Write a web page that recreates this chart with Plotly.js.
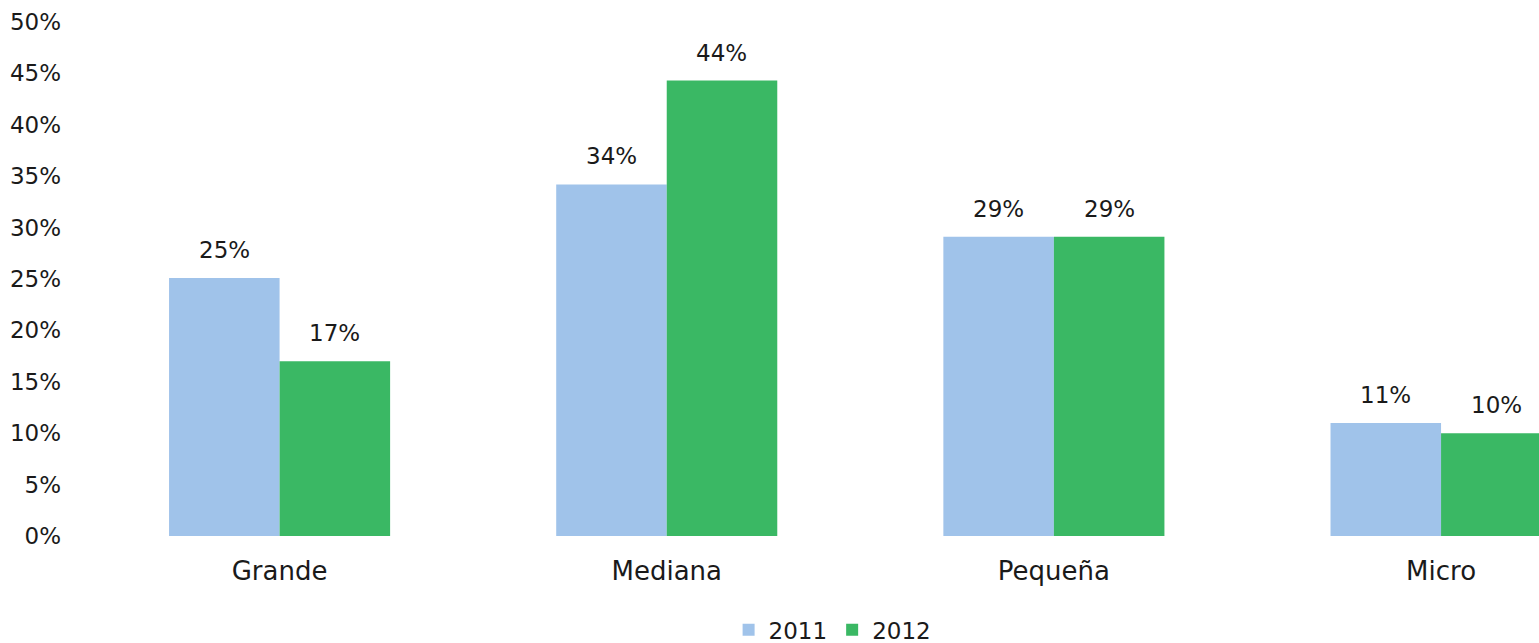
<!DOCTYPE html>
<html>
<head>
<meta charset="utf-8">
<script src="https://cdn.plot.ly/plotly-3.0.1.min.js"></script>
<style>
  html, body { margin: 0; padding: 0; background: #fff; }
  #grafico { width: 1539px; height: 643px; }
</style>
</head>
<body>
<div id="grafico"></div>
<script>
// Datos del gráfico
var categorias = ['Grande', 'Mediana', 'Pequeña', 'Micro'];
var valores2011 = [0.251, 0.342, 0.291, 0.110];
var valores2012 = [0.170, 0.443, 0.291, 0.100];
var series = ['2011', '2012'];

var colorAzul = '#A0C3EA';
var colorVerde = '#3AB864';
var fuente = 'DejaVu Sans, sans-serif';

function initGrafico() {
    var data = [{
        x: categorias,
        y: valores2011,
        type: 'bar',
        name: series[0],
        marker: {color: colorAzul},
        hoverinfo: 'none'
    }, {
        x: categorias,
        y: valores2012,
        type: 'bar',
        name: series[1],
        marker: {color: colorVerde},
        hoverinfo: 'none'
    }];

    // Etiquetas de datos sobre cada barra
    var desplaz = 0.1427;
    var anotaciones = [];
    categorias.forEach(function(c, i) {
        anotaciones.push({x: i - desplaz, y: valores2011[i], text: Math.round(valores2011[i] * 100) + '%',
            showarrow: false, yanchor: 'middle', yshift: 28});
        anotaciones.push({x: i + desplaz, y: valores2012[i], text: Math.round(valores2012[i] * 100) + '%',
            showarrow: false, yanchor: 'middle', yshift: 28});
    });

    var layout = {
        width: 1539,
        height: 643,
        margin: {l: 86, r: 0, t: 22, b: 107, autoexpand: false},
        paper_bgcolor: '#fff',
        plot_bgcolor: '#fff',
        font: {family: fuente, size: 23, color: '#1a1a1a'},
        barmode: 'group',
        bargap: 0.429,
        bargroupgap: 0,
        xaxis: {
            type: 'category',
            range: [-0.5, 3.253],
            showline: false,
            showgrid: false,
            ticks: '',
            ticklabelstandoff: 17,
            tickfont: {size: 26}
        },
        yaxis: {
            range: [0, 0.5],
            dtick: 0.05,
            tickformat: '.0%',
            showgrid: false,
            zeroline: false,
            showline: false,
            ticks: '',
            ticklabelstandoff: 24,
            tickfont: {size: 23}
        },
        annotations: anotaciones,
        showlegend: true,
        legend: {
            orientation: 'h',
            xref: 'container',
            yref: 'container',
            x: 0.541,
            xanchor: 'center',
            y: 0.054,
            yanchor: 'top',
            font: {size: 23},
            itemwidth: 30
        }
    };

    Plotly.newPlot('grafico', data, layout, {displayModeBar: false, staticPlot: true});
}

document.addEventListener('DOMContentLoaded', function() {
    initGrafico();
});
</script>
</body>
</html>
